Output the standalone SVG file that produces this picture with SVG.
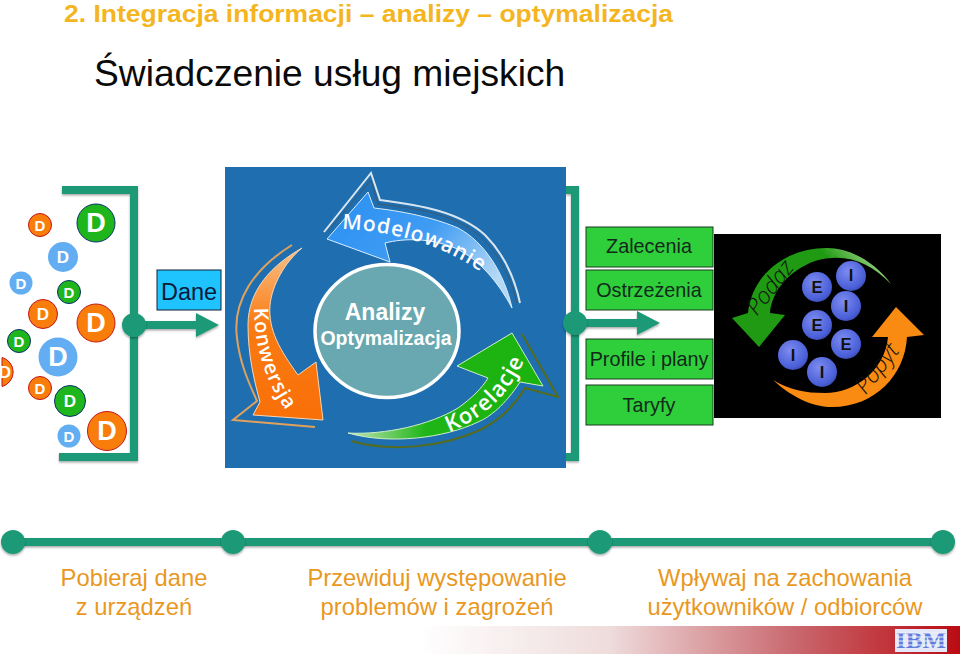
<svg xmlns="http://www.w3.org/2000/svg" width="960" height="654" viewBox="0 0 960 654">
<style>
.sans{font-family:"Liberation Sans",Arial,sans-serif}
.d{fill:#fff;font-family:"Liberation Sans",Arial,sans-serif;font-weight:bold;text-anchor:middle;dominant-baseline:central}
.or{fill:#f97d0b;stroke:#c3161c;stroke-width:1}
.gr{fill:#1fb51c;stroke:#0c2f6e;stroke-width:1}
.bl{fill:#63aef2}
.teal{fill:#1f9a78}
.tl{stroke:#1f9a78;fill:none;stroke-width:8}
.gb rect{fill:#2fcf3c;stroke:#1a3a20;stroke-width:1}
.lbl{font-family:"Liberation Sans",Arial,sans-serif;font-size:19.800px;fill:#12291a;text-anchor:middle}
.hand{font-family:"Open Sans",sans-serif;fill:#fff;font-weight:600}
.core{font-family:"Liberation Sans",Arial,sans-serif;fill:#fff;font-weight:bold;text-anchor:middle}
.ei{fill:url(#ball)}
.eit{font-family:"Liberation Sans",Arial,sans-serif;font-weight:bold;font-size:16.500px;fill:#111;text-anchor:middle}
.pp{font-family:"Open Sans",sans-serif;font-style:italic;font-weight:300;font-size:23px;fill:#111;text-anchor:middle}
.foot{font-family:"Liberation Sans",Arial,sans-serif;font-size:23.800px;fill:#e9981f;text-anchor:middle}
.thin{fill:none;stroke-width:2}
</style>
<defs>
<filter id="sh" x="-5%" y="-20%" width="110%" height="140%"><feDropShadow dx="0" dy="1.500" stdDeviation="0.800" flood-color="#000" flood-opacity="0.350"/></filter>
<linearGradient id="gm" x1="0" y1="0" x2="1" y2="0.6"><stop offset="0" stop-color="#2a8ff2"/><stop offset="0.55" stop-color="#3f9cf3"/><stop offset="1" stop-color="#b5d8f5"/></linearGradient>
<linearGradient id="gk" x1="0" y1="0" x2="0" y2="1"><stop offset="0" stop-color="#f8c08a"/><stop offset="0.45" stop-color="#f97b12"/><stop offset="1" stop-color="#f96f08"/></linearGradient>
<linearGradient id="gr" x1="0" y1="0" x2="1" y2="0"><stop offset="0" stop-color="#c4e6b8"/><stop offset="0.4" stop-color="#1fb517"/><stop offset="1" stop-color="#1bb30e"/></linearGradient>
<linearGradient id="gp" x1="1" y1="0.2" x2="0" y2="0.8"><stop offset="0" stop-color="#a8d890"/><stop offset="0.25" stop-color="#1f9a12"/><stop offset="1" stop-color="#1f9a12"/></linearGradient>
<linearGradient id="bar" x1="0" y1="0" x2="1" y2="0"><stop offset="0" stop-color="#fff"/><stop offset="0.35" stop-color="#efdcdc"/><stop offset="0.7" stop-color="#c8666c"/><stop offset="1" stop-color="#bb0b12"/></linearGradient>
<radialGradient id="ball" cx="0.4" cy="0.35" r="0.7"><stop offset="0" stop-color="#7d8cf0"/><stop offset="0.8" stop-color="#4a5fd8"/><stop offset="1" stop-color="#3a4cb0"/></radialGradient>
<path id="pm" d="M342 229 C390 231 440 243 482 273"/>
<path id="pk" d="M254 308 C254 350 268 392 296 422"/>
<path id="pr" d="M449 432 C480 420 505 400 522 365"/>
<marker id="ah" markerUnits="userSpaceOnUse" markerWidth="24" markerHeight="24" refX="0" refY="12" orient="auto"><path d="M0 0L23 12L0 24Z" fill="#1f9a78"/></marker>
</defs>

<text id="title" class="sans" x="64" y="21.800" font-size="24" font-weight="bold" fill="#f4b51e" textLength="609" lengthAdjust="spacingAndGlyphs">2. Integracja informacji – analizy – optymalizacja</text>
<text id="subtitle" class="sans" x="94" y="86" font-size="37.200" fill="#0a0a0a">Świadczenie usług miejskich</text>

<g id="connectors" filter="url(#sh)">
<path class="tl" d="M62 190H134V457H59"/>
<path class="tl" d="M134 325H196" marker-end="url(#ah)"/>
<path class="tl" d="M566 190H575V457H566"/>
<path class="tl" d="M575 323H637" marker-end="url(#ah)"/>
<path class="tl" d="M13 542H943"/>
</g>

<g id="data-points">
<g><circle class="or" cx="40" cy="225" r="11.500"/><text class="d" x="40" y="225" font-size="15">D</text></g>
<g><circle class="gr" cx="96" cy="223" r="19"/><text class="d" x="96" y="223" font-size="27">D</text></g>
<g><circle class="bl" cx="63" cy="257" r="15"/><text class="d" x="63" y="257" font-size="17">D</text></g>
<g><circle class="bl" cx="21" cy="283" r="11.500"/><text class="d" x="21" y="283" font-size="15">D</text></g>
<g><circle class="gr" cx="69" cy="292" r="11.500"/><text class="d" x="69" y="292" font-size="15">D</text></g>
<g><circle class="or" cx="43" cy="314" r="14.500"/><text class="d" x="43" y="314" font-size="17">D</text></g>
<g><circle class="or" cx="96" cy="323" r="19"/><text class="d" x="96" y="323" font-size="27">D</text></g>
<g><circle class="gr" cx="19" cy="341" r="11.500"/><text class="d" x="19" y="341" font-size="15">D</text></g>
<g><circle class="bl" cx="58" cy="357" r="19.500"/><text class="d" x="58" y="357" font-size="27">D</text></g>
<g><path class="or" d="M2 357.500A15 15 0 0 1 2 386.500Z"/><text class="d" x="5" y="372" font-size="17">D</text></g>
<g><circle class="or" cx="40" cy="388" r="11.500"/><text class="d" x="40" y="388" font-size="15">D</text></g>
<g><circle class="gr" cx="70" cy="401" r="15.500"/><text class="d" x="70" y="401" font-size="17">D</text></g>
<g><circle class="bl" cx="69" cy="436" r="11.500"/><text class="d" x="69" y="436" font-size="15">D</text></g>
<g><circle class="or" cx="107" cy="431" r="19.500"/><text class="d" x="107" y="431" font-size="27">D</text></g>
</g>

<g id="hub-left" filter="url(#sh)"><circle class="teal" cx="134" cy="325" r="12"/></g>
<g id="dane"><rect x="157" y="270" width="64" height="40" fill="#1fc4ff" stroke="#123" stroke-width="1"/><text class="sans" x="189" y="300" font-size="23.500" text-anchor="middle" fill="#0b1a3a">Dane</text></g>

<g id="analytics">
<rect x="225" y="167" width="341" height="301" fill="#1f6eb0"/>
<path class="thin" stroke="#d8e6ef" d="M324 232L371 173L380 200C420 205 460 212 485 235C505 255 515 280 520 303"/>
<path fill="none" stroke="#3d5a70" stroke-width="1" d="M328 231L371 180L378 204C420 208 458 216 482 238C502 258 512 282 517 303"/>
<path fill="url(#gm)" stroke="#d8eefb" stroke-width="1" d="M327 239L368 192L374 208C410 212 440 220 458 228C485 242 505 275 512 308C498 282 480 260 455 248C430 238 405 238 385 243L390 262Z"/>
<path class="thin" stroke="#e0a15c" d="M292 245C255 268 232 300 237 338C240 365 250 385 257 401L233 420L315 427"/>
<path fill="url(#gk)" stroke="#f7d6b0" stroke-width="1" d="M302 248C272 265 248 290 248 325C248 355 254 380 260 402L253 415L323 420L316 362L298 375C280 350 268 330 270 305C272 285 285 262 302 248Z"/>
<path class="thin" stroke="#556b1e" d="M351 441C390 452 440 448 480 430C500 420 515 405 525 388L558 397L522 334"/>
<path fill="url(#gr)" stroke="#cdeec5" stroke-width="1" d="M348 433C385 435 430 425 458 408C472 398 482 388 488 378L457 366L512 333L543 386L520 382C505 405 490 417 478 422C445 438 390 445 348 433Z"/>
<text class="hand" font-size="21" letter-spacing="1"><textPath href="#pm">Modelowanie</textPath></text>
<text class="hand" font-size="20" letter-spacing="1"><textPath href="#pk">Konwersja</textPath></text>
<text class="hand" font-size="22" letter-spacing="1"><textPath href="#pr">Korelacje</textPath></text>
<ellipse cx="387" cy="331" rx="72" ry="66.500" fill="#69a8b0" stroke="#fff" stroke-width="3.500"/>
<text class="core" x="385" y="320" font-size="23">Analizy</text>
<text class="core" x="386" y="345" font-size="19.500">Optymalizacja</text>
</g>

<g id="hub-right" filter="url(#sh)"><circle class="teal" cx="575" cy="323" r="12"/></g>

<g id="outputs" class="gb">
<g><rect x="586" y="227" width="127" height="40"/><text class="lbl" x="649" y="253">Zalecenia</text></g>
<g><rect x="586" y="270" width="127" height="40"/><text class="lbl" x="649" y="297">Ostrzeżenia</text></g>
<g><rect x="586" y="339" width="127" height="40"/><text class="lbl" x="649" y="366">Profile i plany</text></g>
<g><rect x="586" y="385" width="127" height="40"/><text class="lbl" x="649" y="412">Taryfy</text></g>
</g>

<g id="market">
<rect x="714" y="234" width="227" height="184" fill="#000"/>
<path fill="url(#gp)" d="M891 284C875 262 850 248 827 248C785 248 752 275 748 313L732 318L759 347L785 315L770 313C772 290 790 270 815 261C845 252 870 262 891 284Z"/>
<path fill="#f98a12" d="M773 380C795 400 815 407 832 407C875 407 905 375 907 337L924 335L896 307L872 337L888 337C885 370 855 393 825 393C805 393 790 390 773 380Z"/>
<text class="pp" transform="translate(776 292) rotate(-52)">Podaż</text>
<text class="pp" transform="translate(883 373) rotate(-52)">Popyt</text>
<g><circle class="ei" cx="817" cy="287" r="15"/><text class="eit" x="817" y="293">E</text></g>
<g><circle class="ei" cx="851" cy="276" r="15"/><text class="eit" x="851" y="281">I</text></g>
<g><circle class="ei" cx="846" cy="306" r="15"/><text class="eit" x="846" y="312">I</text></g>
<g><circle class="ei" cx="817" cy="325" r="15"/><text class="eit" x="817" y="331">E</text></g>
<g><circle class="ei" cx="846" cy="344" r="15"/><text class="eit" x="846" y="350">E</text></g>
<g><circle class="ei" cx="793" cy="355" r="15"/><text class="eit" x="793" y="361">I</text></g>
<g><circle class="ei" cx="822" cy="372" r="15"/><text class="eit" x="822" y="378">I</text></g>
</g>

<g id="timeline" filter="url(#sh)">
<circle class="teal" cx="13" cy="542" r="12"/>
<circle class="teal" cx="233" cy="542" r="12"/>
<circle class="teal" cx="600" cy="542" r="12"/>
<circle class="teal" cx="943" cy="542" r="12"/>
</g>

<g id="step-1"><text class="foot" x="134" y="586">Pobieraj dane</text><text class="foot" x="134" y="615">z urządzeń</text></g>
<g id="step-2"><text class="foot" x="437" y="586">Przewiduj występowanie</text><text class="foot" x="437" y="615">problemów i zagrożeń</text></g>
<g id="step-3"><text class="foot" x="785" y="586">Wpływaj na zachowania</text><text class="foot" x="785" y="615">użytkowników / odbiorców</text></g>

<rect id="footer-band" x="420" y="626" width="540" height="28" fill="url(#bar)"/>
<g id="logo">
<rect x="895" y="629" width="52" height="23" fill="#e4e8f8"/>
<text x="921" y="648" font-family="Liberation Serif,serif" font-weight="bold" font-size="24" text-anchor="middle" fill="#5f7bdc" textLength="50" lengthAdjust="spacingAndGlyphs">IBM</text>
<path stroke="#eef1fb" stroke-width="1" d="M895 633H947M895 637H947M895 641H947M895 645H947"/>
</g>
</svg>
